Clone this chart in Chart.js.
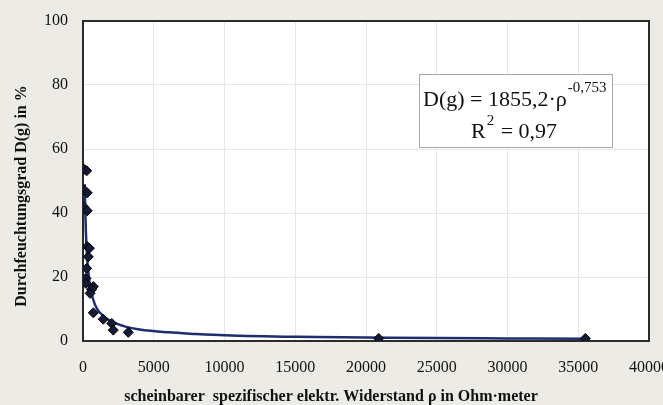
<!DOCTYPE html>
<html>
<head>
<meta charset="utf-8">
<script src="https://cdn.jsdelivr.net/npm/chart.js@4"></script>
<style>
  html, body { margin: 0; padding: 0; overflow: hidden; background: #ecebe5; }
  canvas { display: block; }
</style>
</head>
<body>
<canvas id="chart" width="690" height="405"></canvas>
<script>
// measured points (resistivity in Ohm*m, D(g) in %)
const rhoValues = [70, 260, 70, 300, 70, 300, 300, 450, 375, 260, 210, 210, 730, 610, 500, 730, 1430, 2030, 2140, 3200, 20900, 35500]
const dgValues = [53.7, 53.2, 47.2, 46.3, 41.8, 40.7, 29.5, 29.0, 26.3, 22.7, 19.6, 18.0, 17.0, 16.1, 14.9, 8.8, 6.8, 5.5, 3.4, 2.7, 0.8, 0.8]

// trend line
const trendRho = [125, 150, 200, 300, 400, 500, 700, 1000, 1500, 2000, 3000, 4000, 6000, 8000, 10000, 15000, 20000, 25000, 30000, 35500]
const trendDg = [49, 43, 34.5, 25.5, 20.5, 17.2, 13.2, 10, 7.6, 6.1, 4.5, 3.6, 2.7, 2.2, 1.8, 1.3, 1.1, 0.9, 0.8, 0.7]

const xTicks = [0, 5000, 10000, 15000, 20000, 25000, 30000, 35000, 40000]
const yTicks = [0, 20, 40, 60, 80, 100]

const serif = "'Liberation Serif', 'Times New Roman', serif"

const framePlugin = {
  id: 'frame',
  beforeDraw(chart) {
    const { ctx, chartArea: a } = chart
    ctx.save()
    ctx.fillStyle = '#ecebe5'
    ctx.fillRect(0, 0, chart.width, chart.height)
    ctx.fillStyle = '#ffffff'
    ctx.fillRect(a.left, a.top, a.right - a.left, a.bottom - a.top)
    ctx.restore()
  },
  beforeDatasetsDraw(chart) {
    const { ctx, chartArea: a } = chart
    ctx.save()
    ctx.strokeStyle = '#2b2b2b'
    ctx.lineWidth = 2
    ctx.strokeRect(a.left, a.top, a.right - a.left, a.bottom - a.top)
    ctx.restore()
  },
  afterDraw(chart) {
    const { ctx } = chart
    ctx.save()
    // equation box
    ctx.fillStyle = '#ffffff'
    ctx.fillRect(419, 74, 193, 73)
    ctx.strokeStyle = '#a8a8a8'
    ctx.lineWidth = 1
    ctx.strokeRect(419.5, 74.5, 193, 73)

    ctx.fillStyle = '#111'
    ctx.textBaseline = 'alphabetic'
    ctx.textAlign = 'left'
    ctx.font = '22px ' + serif
    const main = 'D(g) = 1855,2·ρ'
    ctx.fillText(main, 423, 106)
    const w = ctx.measureText(main).width
    ctx.font = '15px ' + serif
    ctx.fillText('-0,753', 423 + w + 1, 92)

    ctx.font = '22px ' + serif
    ctx.fillText('R', 471, 138)
    const rw = ctx.measureText('R').width
    ctx.font = '15px ' + serif
    ctx.fillText('2', 471 + rw + 1, 125)
    const r2w = ctx.measureText('2').width
    ctx.font = '22px ' + serif
    ctx.fillText(' = 0,97', 471 + rw + r2w + 2, 138)

    // axis titles
    ctx.font = 'bold 16px ' + serif
    ctx.textAlign = 'center'
    ctx.fillText('scheinbarer  spezifischer elektr. Widerstand ρ in Ohm·meter', 331, 401)
    ctx.translate(26, 196)
    ctx.rotate(-Math.PI / 2)
    ctx.fillText('Durchfeuchtungsgrad D(g) in %', 0, 0)
    ctx.restore()
  }
}

const ctx = document.getElementById('chart').getContext('2d')

const data = {
  datasets: [
    {
      label: 'Trend',
      data: trendRho.map((x, i) => ({ x: x, y: trendDg[i] })),
      showLine: true,
      borderColor: '#1d2d6f',
      borderWidth: 2.5,
      pointRadius: 0,
      cubicInterpolationMode: 'monotone',
      order: 2,
    },
    {
      label: 'Messwerte',
      data: rhoValues.map((x, i) => ({ x: x, y: dgValues[i] })),
      showLine: false,
      pointStyle: 'rectRot',
      pointRadius: 5,
      backgroundColor: '#151a36',
      borderColor: '#000000',
      borderWidth: 1,
      order: 1,
    },
  ],
}

const config = {
  type: 'scatter',
  data: data,
  options: {
    responsive: false,
    animation: false,
    devicePixelRatio: 1,
    layout: { padding: { top: 21, right: 41, left: 0, bottom: 0 } },
    plugins: {
      legend: { display: false },
      tooltip: { enabled: false },
    },
    scales: {
      x: {
        type: 'linear',
        min: 0,
        max: 40000,
        afterBuildTicks: (s) => { s.ticks = xTicks.map(v => ({ value: v })) },
        afterFit: (s) => { s.height = 64; s.paddingLeft = 0; s.paddingRight = 0 },
        grid: { color: '#e6e6e6', lineWidth: 1, drawTicks: false },
        border: { display: false },
        ticks: {
          padding: 17,
          color: '#111',
          maxRotation: 0,
          font: { family: serif, size: 16 },
          callback: (v) => String(v),
        },
      },
      y: {
        min: 0,
        max: 100,
        afterBuildTicks: (s) => { s.ticks = yTicks.map(v => ({ value: v })) },
        afterFit: (s) => { s.width = 83; s.paddingTop = 0; s.paddingBottom = 0 },
        grid: { color: '#e6e6e6', lineWidth: 1, drawTicks: false },
        border: { display: false },
        ticks: {
          padding: 15,
          color: '#111',
          font: { family: serif, size: 16 },
        },
      },
    },
  },
  plugins: [framePlugin],
}

const myChart = new Chart(ctx, config)
</script>
</body>
</html>
